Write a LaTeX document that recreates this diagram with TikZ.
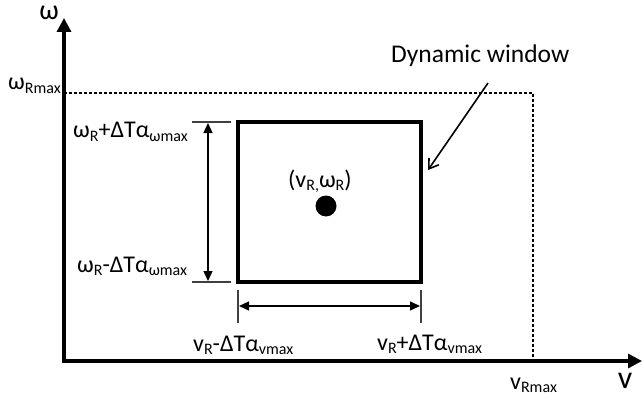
\documentclass[tikz,border=0pt]{standalone}
\usepackage{fontspec}
\setmainfont{Carlito}
\usetikzlibrary{arrows.meta,calc}
\newcommand{\lowtxt}[1]{\raisebox{-0.16em}{\fontsize{16}{16}\selectfont #1}}
\tikzset{
  lbl/.style={inner sep=0pt, anchor=base west, font=\fontsize{24}{28}\selectfont},
  axis/.style={line width=3.2pt, -{Triangle[length=14pt,width=14pt]}},
  dimline/.style={line width=1.3pt, {Triangle[length=10pt,width=9pt]}-{Triangle[length=10pt,width=9pt]}},
  tickline/.style={line width=1.1pt, draw=black!75},
  limit/.style={line width=1.6pt, dash pattern=on 3pt off 2pt},
  winbox/.style={draw, line width=3.3pt, inner sep=0pt, minimum width=183pt, minimum height=160pt},
  pointer/.style={line width=1.6pt, -{Straight Barb[length=9pt,width=12pt]}}
}
\begin{document}
\begin{tikzpicture}[x=1pt,y=-1pt]
\useasboundingbox (0,0) rectangle (642,401);
% axes
\coordinate (o) at (64,361);
\coordinate (ytop) at (64,18);
\coordinate (xend) at (642,361);
\draw[axis] (o) -- (ytop);
\draw[axis] ([xshift=-1.6pt]o) -- (xend);
\node[inner sep=0pt, font=\fontsize{28}{30}\selectfont, anchor=base] (wlab) at (49,20) {ω};
\node[inner sep=0pt, font=\fontsize{32}{34}\selectfont, anchor=base] (vlab) at (625,388) {v};
% limits
\coordinate (wmax) at (64,93);
\coordinate (corner) at (533,93);
\coordinate (vmax) at (533,361);
\draw[limit] (wmax) -- (corner) -- (vmax);
\node[lbl] (wmaxlab) at (8,90) {ω\lowtxt{Rmax}};
\node[lbl] (vmaxlab) at (510,389) {v\lowtxt{Rmax}};
% window
\node[winbox] (win) at (329.5,202) {};
\node[circle, fill, inner sep=0pt, minimum size=21pt] (dot) at (326,206) {};
\node[lbl] (vwlab) at (288,187) {(v\lowtxt{R,}ω\lowtxt{R})};
% vertical dimension
\coordinate (tt1) at (192,122);
\coordinate (tt2) at (231,122);
\coordinate (tb1) at (192,282);
\coordinate (tb2) at (231,282);
\draw[tickline] (tt1) -- (tt2);
\draw[tickline] (tb1) -- (tb2);
\coordinate (dv1) at (208,123);
\coordinate (dv2) at (208,281);
\draw[dimline] (dv1) -- (dv2);
% horizontal dimension
\coordinate (hl1) at (238,290);
\coordinate (hl2) at (238,323);
\coordinate (hr1) at (421,290);
\coordinate (hr2) at (421,323);
\draw[tickline] (hl1) -- (hl2);
\draw[tickline] (hr1) -- (hr2);
\coordinate (dh1) at (239,306);
\coordinate (dh2) at (420,306);
\draw[dimline] (dh1) -- (dh2);
% labels
\node[lbl] (wplus) at (73,138) {ω\lowtxt{R}+ΔTα\lowtxt{ωmax}};
\node[lbl] (wminus) at (77,272) {ω\lowtxt{R}-ΔTα\lowtxt{ωmax}};
\node[lbl] (vminus) at (193,351) {v\lowtxt{R}-ΔTα\lowtxt{vmax}};
\node[lbl] (vplus) at (377,350) {v\lowtxt{R}+ΔTα\lowtxt{vmax}};
% dynamic window pointer
\node[lbl, font=\fontsize{25.5}{28}\selectfont] (dyn) at (391,63) {Dynamic window};
\coordinate (pstart) at (488,83);
\coordinate (ptip) at (428,170);
\draw[pointer] (pstart) -- (ptip);
\end{tikzpicture}
\end{document}
